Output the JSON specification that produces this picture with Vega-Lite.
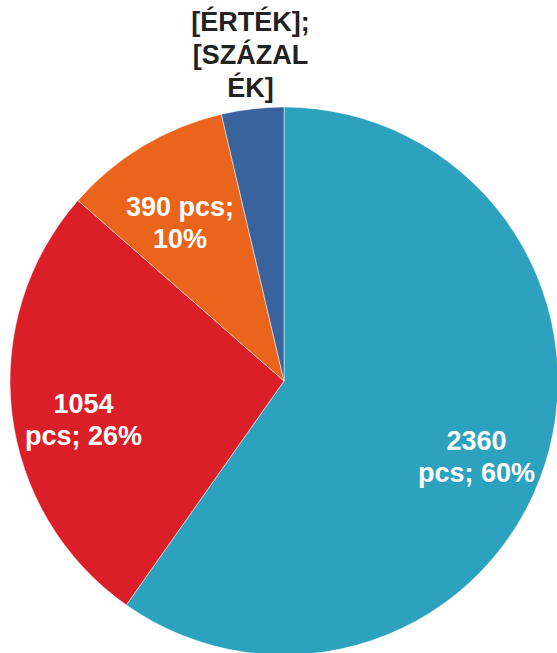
{
  "$schema": "https://vega.github.io/schema/vega-lite/v6.json",
  "width": 548,
  "height": 548,
  "autosize": {"type": "none"},
  "padding": {"left": 10, "top": 107, "right": 0, "bottom": 0},
  "background": "white",
  "view": {"stroke": null},
  "data": {
    "values": [
      {"cat": "A", "order": 1, "value": 2360, "label": "2360\npcs; 60%"},
      {"cat": "B", "order": 2, "value": 1054, "label": "1054\npcs; 26%"},
      {"cat": "C", "order": 3, "value": 390, "label": "390 pcs;\n10%"},
      {"cat": "D", "order": 4, "value": 145, "label": "[ÉRTÉK];\n[SZÁZAL\nÉK]"}
    ]
  },
  "encoding": {
    "theta": {"field": "value", "type": "quantitative", "stack": true},
    "order": {"field": "order", "type": "quantitative"}
  },
  "layer": [
    {
      "mark": {"type": "arc", "stroke": "white", "strokeWidth": 0.5},
      "encoding": {
        "color": {
          "field": "cat",
          "type": "nominal",
          "scale": {"domain": ["A", "B", "C", "D"], "range": ["#2DA2BF", "#DA1F28", "#EB641B", "#39639D"]},
          "legend": null
        }
      }
    },
    {
      "mark": {"type": "text", "radius": 202, "font": "Liberation Sans", "fontWeight": "bold", "fontSize": 27, "lineBreak": "\n", "lineHeight": 32, "color": "white", "baseline": "middle", "align": "center"},
      "encoding": {
        "text": {"field": "label"},
        "opacity": {"condition": {"test": "datum.cat === 'D'", "value": 0}, "value": 1}
      }
    },
    {
      "mark": {"type": "text", "radius": 360, "dx": 8, "font": "Liberation Sans", "fontWeight": "bold", "fontSize": 27, "lineBreak": "\n", "lineHeight": 33, "color": "#222222", "baseline": "middle", "align": "center"},
      "encoding": {
        "text": {"field": "label"},
        "opacity": {"condition": {"test": "datum.cat === 'D'", "value": 1}, "value": 0}
      }
    }
  ]
}
